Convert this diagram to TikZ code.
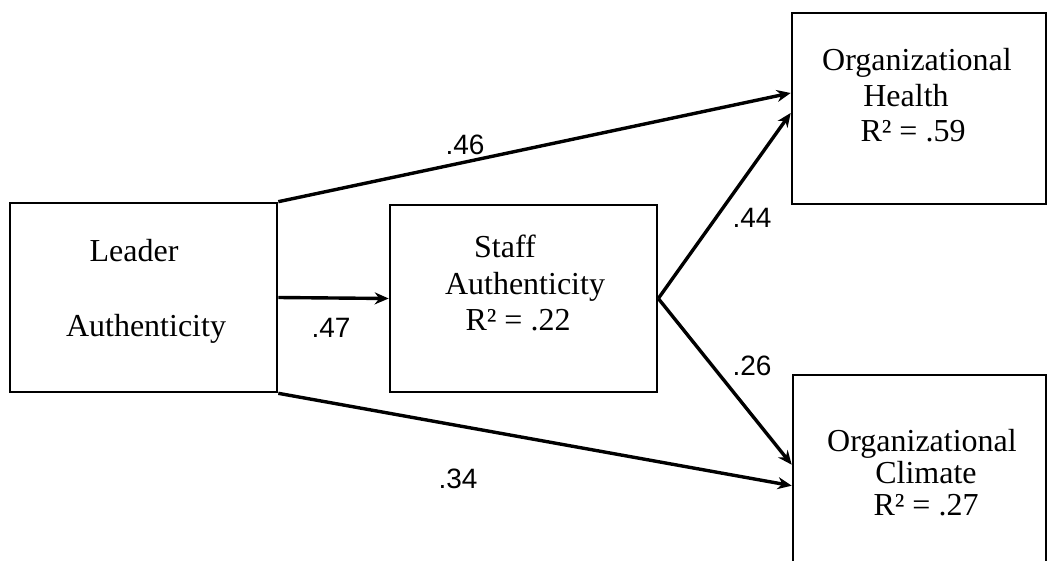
\documentclass[tikz,border=0pt]{standalone}
\usepackage{fontspec}
\setmainfont{Liberation Serif}
\newfontfamily\labfont{Liberation Sans}
\usetikzlibrary{arrows.meta}
\tikzset{
  boxnode/.style={draw=black, line width=2.6pt, rectangle, inner sep=0pt},
  txt/.style={font=\fontsize{32}{37}\selectfont, inner sep=0pt, text height=22pt, text depth=7pt},
  coef/.style={font=\labfont\fontsize{28}{32}\selectfont, inner sep=0pt},
  path/.style={line width=3.4pt, -{Stealth[length=14pt,width=12pt]}}
}
\begin{document}
\begin{tikzpicture}[x=1pt,y=-1pt]
\fill[white] (0,0) rectangle (1048,561);
\clip (0,0) rectangle (1048,561);
% boxes
\node[boxnode, minimum width=267pt, minimum height=189pt] (lead) at (143.5,297.5) {};
\node[boxnode, minimum width=267pt, minimum height=187pt] (staff) at (523.5,298.5) {};
\node[boxnode, minimum width=254pt, minimum height=191pt] (health) at (919,108.5) {};
\node[boxnode, minimum width=253pt, minimum height=265pt] (climate) at (919.5,507.5) {};
% box texts
\node[txt] (leadA) at (134,254) {Leader};
\node[txt] (leadB) at (146,329) {Authenticity};
\node[txt] (staffA) at (505,250) {Staff};
\node[txt] (staffB) at (525,287) {Authenticity};
\node[txt] (staffC) at (518,323) {R² = .22};
\node[txt] (healthA) at (917,63) {Organizational};
\node[txt] (healthB) at (906,99) {Health};
\node[txt] (healthC) at (913,134) {R² = .59};
\node[txt] (climA) at (922,444) {Organizational};
\node[txt] (climB) at (926,476) {Climate};
\node[txt] (climC) at (926,508) {R² = .27};
% connectors
\draw[path] (lead.north east) -- ([yshift=15.5pt]health.west);
\draw[path] (lead.east) -- (staff.west);
\draw[path] (lead.south east) -- ([yshift=-112pt]climate.north west);
\draw[path] (staff.east) -- ([yshift=-4.5pt]health.west);
\draw[path] (staff.east) -- ([yshift=-91pt]climate.north west);
% coefficients
\node[coef] (c46) at (465,145) {.46};
\node[coef] (c47) at (331,328) {.47};
\node[coef] (c34) at (458,479) {.34};
\node[coef] (c44) at (752,218) {.44};
\node[coef] (c26) at (752,366) {.26};
\end{tikzpicture}
\end{document}
